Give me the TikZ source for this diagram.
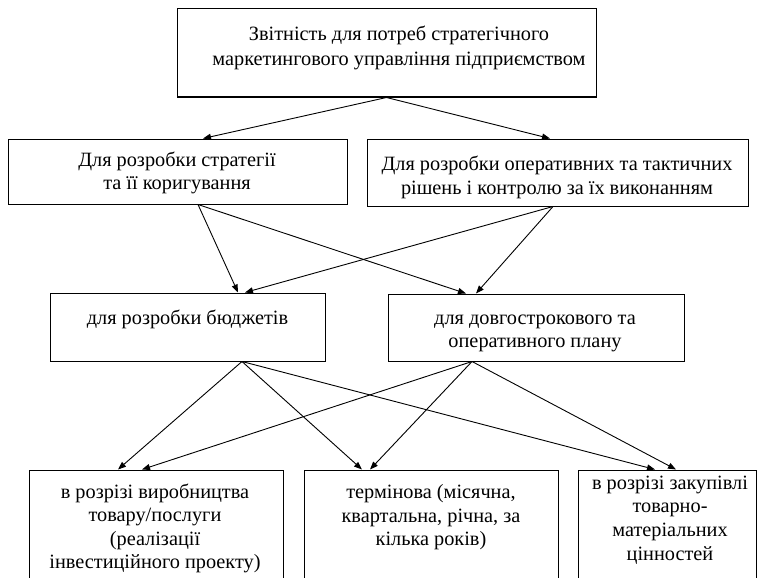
\documentclass[tikz,border=0pt]{standalone}
\usepackage{fontspec}
\setmainfont{Liberation Serif}
\usetikzlibrary{arrows.meta}
\begin{document}
\begin{tikzpicture}[x=1pt,y=-1pt,
  box/.style={draw, line width=1pt, inner sep=0pt},
  lbl/.style={font=\fontsize{20.3}{23.6}\selectfont, align=center, inner sep=0pt, anchor=center},
  arr/.style={-{Triangle[length=8pt,width=6pt]}, line width=0.9pt},
]
\useasboundingbox (0,0) rectangle (758,578);
\clip (0,0) rectangle (758,578);
\fill[white] (0,0) rectangle (758,578);
% boxes
\node[box, minimum width=419pt, minimum height=88pt] (top) at (386.5,53) {};
\node[box, minimum width=339pt, minimum height=65pt] (b1) at (177.5,171.5) {};
\node[box, minimum width=381pt, minimum height=67pt] (b2) at (557.5,172.5) {};
\node[box, minimum width=275pt, minimum height=68pt] (m1) at (187.5,327) {};
\node[box, minimum width=296pt, minimum height=67pt] (m2) at (536,327.5) {};
\node[box, minimum width=254pt, minimum height=130pt] (c1) at (156,535) {};
\node[box, minimum width=254pt, minimum height=130pt] (c2) at (431,535) {};
\node[box, minimum width=178pt, minimum height=130pt] (c3) at (667,535) {};
% texts
\node[lbl, font=\fontsize{20.3}{25}\selectfont] (ttop) at (399,48) {Звітність для потреб стратегічного\\маркетингового управління підприємством};
\node[lbl] (tb1) at (177,173) {Для розробки стратегії\\та її коригування};
\node[lbl] (tb2) at (557,177.5) {Для розробки оперативних та тактичних\\рішень і контролю за їх виконанням};
\node[lbl] (tm1) at (187.5,319) {для розробки бюджетів};
\node[lbl] (tm2) at (535,333.5) {для довгострокового та\\оперативного плану};
\node[lbl] (tc1) at (155,528.5) {в розрізі виробництва\\товару/послуги\\(реалізації\\інвестиційного проекту)};
\node[lbl] (tc2) at (431,517.5) {термінова (місячна,\\квартальна, річна, за\\кілька років)};
\node[lbl] (tc3) at (670,520) {в розрізі закупівлі\\товарно-\\матеріальних\\цінностей};
% connectors
\draw[arr] (top.south) -- ([xshift=25.5pt]b1.north);
\draw[arr] (top.south) -- ([xshift=-7.5pt]b2.north);
\draw[arr] ([xshift=20.5pt]b1.south) -- ([xshift=50.5pt]m1.north);
\draw[arr] ([xshift=-4.5pt]b2.south) -- ([xshift=57.5pt]m1.north);
\draw[arr] ([xshift=20.5pt]b1.south) -- ([xshift=-70pt]m2.north);
\draw[arr] ([xshift=-4.5pt]b2.south) -- ([xshift=-60pt]m2.north);
\draw[arr] ([xshift=54.5pt]m1.south) -- ([xshift=-38pt]c1.north);
\draw[arr] ([xshift=-64pt]m2.south) -- ([xshift=-14pt]c1.north);
\draw[arr] ([xshift=54.5pt]m1.south) -- ([xshift=-69pt]c2.north);
\draw[arr] ([xshift=-64pt]m2.south) -- ([xshift=-61pt]c2.north);
\draw[arr] ([xshift=54.5pt]m1.south) -- ([xshift=-12pt]c3.north);
\draw[arr] ([xshift=-64pt]m2.south) -- ([xshift=9pt]c3.north);
\end{tikzpicture}
\end{document}
